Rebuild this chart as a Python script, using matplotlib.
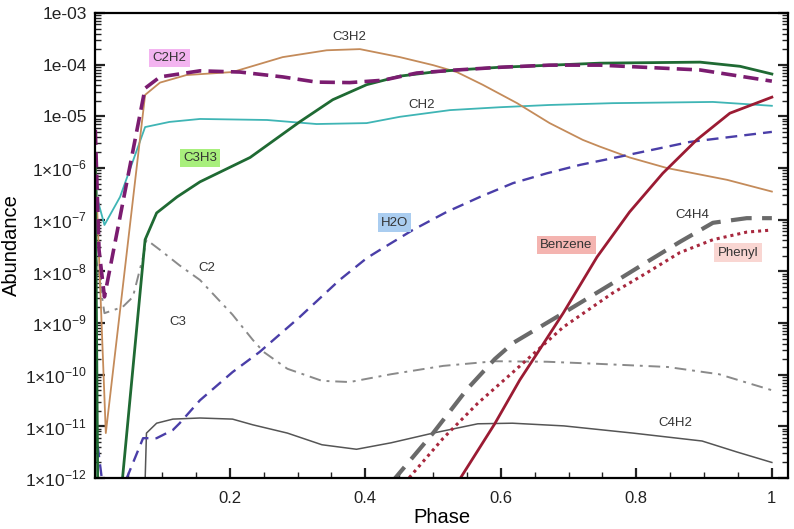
import numpy as np
import matplotlib
matplotlib.use("Agg")
import matplotlib.pyplot as plt
from matplotlib.ticker import LogLocator, MultipleLocator, FixedLocator, FixedFormatter

plt.rcParams['font.family'] = ['Liberation Sans', 'DejaVu Sans']
plt.rcParams['mathtext.fontset'] = 'custom'
plt.rcParams['mathtext.rm'] = 'Liberation Sans'

# phase / abundance
c2h2_x = [0.0015, 0.007, 0.015, 0.075, 0.097, 0.156, 0.215, 0.278, 0.328, 0.377, 0.426, 0.476, 0.535, 0.598, 0.672, 0.746, 0.894, 1.0]
c2h2_y = [5.5e-6, 2.6e-8, 3.2e-9, 3.5e-5, 5.8e-5, 7.6e-5, 7.2e-5, 5.8e-5, 4.6e-5, 4.5e-5, 5.0e-5, 6.9e-5, 7.9e-5, 8.9e-5, 9.8e-5, 9.8e-5, 7.9e-5, 4.8e-5]

c3h2_x = [0.0015, 0.017, 0.075, 0.097, 0.136, 0.204, 0.278, 0.343, 0.392, 0.451, 0.5, 0.535, 0.573, 0.624, 0.672, 0.721, 0.746, 0.79, 0.845, 0.934, 1.0]
c3h2_y = [1.45e-6, 7.4e-12, 2.6e-5, 4.5e-5, 6.3e-5, 7.2e-5, 1.4e-4, 1.9e-4, 2.0e-4, 1.4e-4, 9.8e-5, 7.2e-5, 4.1e-5, 1.8e-5, 7.4e-6, 3.5e-6, 2.6e-6, 1.6e-6, 1.0e-6, 5.9e-7, 3.5e-7]

c3h3_x = [0.0015, 0.005, 0.006, 0.041, 0.075, 0.092, 0.122, 0.156, 0.23, 0.303, 0.352, 0.402, 0.451, 0.5, 0.535, 0.598, 0.746, 0.894, 0.953, 1.0]
c3h3_y = [1.15e-6, 1e-12, 5e-13, 8e-13, 4.1e-8, 1.35e-7, 2.75e-7, 5.4e-7, 1.6e-6, 7.8e-6, 2.1e-5, 4.1e-5, 6.0e-5, 7.2e-5, 7.9e-5, 8.9e-5, 1.07e-4, 1.12e-4, 9.3e-5, 6.6e-5]

ch2_x = [0.0015, 0.005, 0.015, 0.038, 0.075, 0.111, 0.156, 0.255, 0.328, 0.402, 0.451, 0.525, 0.598, 0.672, 0.765, 0.913, 1.0]
ch2_y = [9e-7, 2.4e-7, 7.9e-8, 2.75e-7, 6.2e-6, 7.8e-6, 8.9e-6, 8.5e-6, 7.1e-6, 7.4e-6, 9.8e-6, 1.32e-5, 1.5e-5, 1.66e-5, 1.8e-5, 1.9e-5, 1.6e-5]

h2o_x = [0.0015, 0.011, 0.013, 0.045, 0.048, 0.072, 0.092, 0.116, 0.126, 0.156, 0.204, 0.244, 0.303, 0.362, 0.402, 0.421, 0.47, 0.52, 0.569, 0.618, 0.668, 0.717, 0.765, 0.879, 1.0]
h2o_y = [9.8e-12, 1e-12, 4e-13, 4e-13, 1e-12, 5.9e-12, 5.9e-12, 8.5e-12, 1.15e-11, 3.2e-11, 1.12e-10, 2.75e-10, 1.3e-9, 6.8e-9, 1.8e-8, 2.57e-8, 6.3e-8, 1.41e-7, 2.75e-7, 5.1e-7, 7.9e-7, 1.15e-6, 1.55e-6, 3.2e-6, 5.0e-6]

c2_x = [0.002, 0.015, 0.042, 0.057, 0.072, 0.077, 0.097, 0.126, 0.156, 0.204, 0.234, 0.25, 0.285, 0.336, 0.377, 0.438, 0.515, 0.591, 0.668, 0.744, 0.846, 0.922, 1.0]
c2_y = [2.1e-8, 1.55e-9, 2.05e-9, 3.2e-9, 1.9e-8, 4.1e-8, 2.6e-8, 1.3e-8, 6.8e-9, 1.45e-9, 4.7e-10, 2.75e-10, 1.3e-10, 7.6e-11, 7.2e-11, 1.02e-10, 1.48e-10, 1.82e-10, 1.78e-10, 1.62e-10, 1.41e-10, 1.02e-10, 5.0e-11]

c4h2_x = [0.074, 0.077, 0.092, 0.116, 0.156, 0.204, 0.234, 0.285, 0.336, 0.387, 0.438, 0.5, 0.566, 0.617, 0.693, 0.795, 0.897, 0.948, 1.0]
c4h2_y = [3e-13, 7.4e-12, 1.15e-11, 1.38e-11, 1.45e-11, 1.38e-11, 1.07e-11, 7.4e-12, 4.4e-12, 3.6e-12, 4.8e-12, 7.4e-12, 1.12e-11, 1.15e-11, 1.02e-11, 7.4e-12, 5.2e-12, 3.2e-12, 2.0e-12]

c4h4_x = [0.438, 0.5, 0.55, 0.591, 0.618, 0.692, 0.765, 0.815, 0.864, 0.913, 0.963, 1.0]
c4h4_y = [8e-13, 7.4e-12, 5.2e-11, 2.0e-10, 4.1e-10, 1.55e-9, 5.9e-9, 1.5e-8, 3.7e-8, 8.7e-8, 1.07e-7, 1.07e-7]

phenyl_x = [0.458, 0.515, 0.566, 0.618, 0.692, 0.765, 0.815, 0.864, 0.913, 0.963, 1.0]
phenyl_y = [8e-13, 5.9e-12, 2.8e-11, 1.12e-10, 8.3e-10, 3.8e-9, 9.3e-9, 2.3e-8, 4.1e-8, 5.75e-8, 6.3e-8]

benzene_x = [0.538, 0.591, 0.628, 0.652, 0.692, 0.742, 0.79, 0.839, 0.889, 0.938, 1.0]
benzene_y = [8.9e-13, 1.12e-11, 7.9e-11, 2.4e-10, 1.55e-9, 1.9e-8, 1.41e-7, 7.9e-7, 3.5e-6, 1.15e-5, 2.35e-5]

ytick_vals = [1e-3, 1e-4, 1e-5, 1e-6, 1e-7, 1e-8, 1e-9, 1e-10, 1e-11, 1e-12]
ytick_labels = ['1e-03', '1e-04', '1e-05', r'1×10$^{-6}$', r'1×10$^{-7}$', r'1×10$^{-8}$',
                r'1×10$^{-9}$', r'1×10$^{-10}$', r'1×10$^{-11}$', r'1×10$^{-12}$']

fig = plt.figure(figsize=(7.94, 5.29), dpi=100)
ax = fig.add_axes([0.1196, 0.0964, 0.873, 0.879])

ax.plot(c4h2_x, c4h2_y, color='#555555', lw=1.1)
ax.plot(c2_x, c2_y, color='#8a8a8a', lw=1.4, dashes=(6, 3, 1.5, 3))
ax.plot(ch2_x, ch2_y, color='#3fb5b5', lw=1.3)
ax.plot(c3h2_x, c3h2_y, color='#c48b5a', lw=1.3)
ax.plot(h2o_x, h2o_y, color='#4a3ea8', lw=1.7, dashes=(5, 3))
ax.plot(c4h4_x, c4h4_y, color='#6a6a6a', lw=3.0, dashes=(5, 2.5))
ax.plot(phenyl_x, phenyl_y, color='#a8283e', lw=2.2, dashes=(1, 1.3))
ax.plot(benzene_x, benzene_y, color='#9b1b33', lw=2.0)
ax.plot(c3h3_x, c3h3_y, color='#1f6a33', lw=2.0)
ax.plot(c2h2_x, c2h2_y, color='#7b1c70', lw=2.6, dashes=(4.2, 2))

ax.set_yscale('log')
ax.set_ylim(1e-12, 1e-3)
ax.set_xlim(0.001, 1.024)

ax.yaxis.set_major_locator(FixedLocator(ytick_vals))
ax.yaxis.set_major_formatter(FixedFormatter(ytick_labels))
ax.yaxis.set_minor_locator(LogLocator(base=10, subs=np.arange(2, 10), numticks=20))
ax.xaxis.set_major_locator(FixedLocator([0.2, 0.4, 0.6, 0.8, 1.0]))
ax.xaxis.set_major_formatter(FixedFormatter(['0.2', '0.4', '0.6', '0.8', '1']))
ax.xaxis.set_minor_locator(MultipleLocator(0.05))

ax.tick_params(axis='both', which='both', direction='in', colors='#222222')
ax.tick_params(axis='y', which='both', right=True, labelsize=12.5, pad=6)
ax.tick_params(axis='x', labelsize=12, pad=9)
ax.tick_params(which='major', length=7, width=1.6)
ax.tick_params(which='minor', length=4, width=1.0)
ax.tick_params(axis='y', which='minor', labelleft=False)
for s in ax.spines.values():
    s.set_linewidth(1.6)

ax.set_xlabel('Phase', fontsize=14.5, labelpad=2)
ax.set_ylabel('Abundance', fontsize=14.5, labelpad=3)

# curve labels
lab_kw = dict(fontsize=9.5, ha='center', va='center', color='#333333')
ax.text(0.111, 10**-3.87, 'C2H2', bbox=dict(boxstyle='square,pad=0.25', fc='#f3b4f0', ec='none'), **lab_kw)
ax.text(0.377, 10**-3.46, 'C3H2', **lab_kw)
ax.text(0.483, 10**-4.78, 'CH2', **lab_kw)
ax.text(0.156, 10**-5.81, 'C3H3', bbox=dict(boxstyle='square,pad=0.25', fc='#a8ef7c', ec='none'), **lab_kw)
ax.text(0.443, 10**-7.06, 'H2O', bbox=dict(boxstyle='square,pad=0.25', fc='#aacdf0', ec='none'), **lab_kw)
ax.text(0.697, 10**-7.49, 'Benzene', bbox=dict(boxstyle='square,pad=0.25', fc='#f4b4b0', ec='none'), **lab_kw)
ax.text(0.882, 10**-6.91, 'C4H4', **lab_kw)
ax.text(0.95, 10**-7.64, 'Phenyl', bbox=dict(boxstyle='square,pad=0.25', fc='#f9d6d2', ec='none'), **lab_kw)
ax.text(0.166, 10**-7.94, 'C2', **lab_kw)
ax.text(0.123, 10**-8.98, 'C3', **lab_kw)
ax.text(0.857, 10**-10.94, 'C4H2', **lab_kw)

fig.savefig('out.png', dpi=100)
